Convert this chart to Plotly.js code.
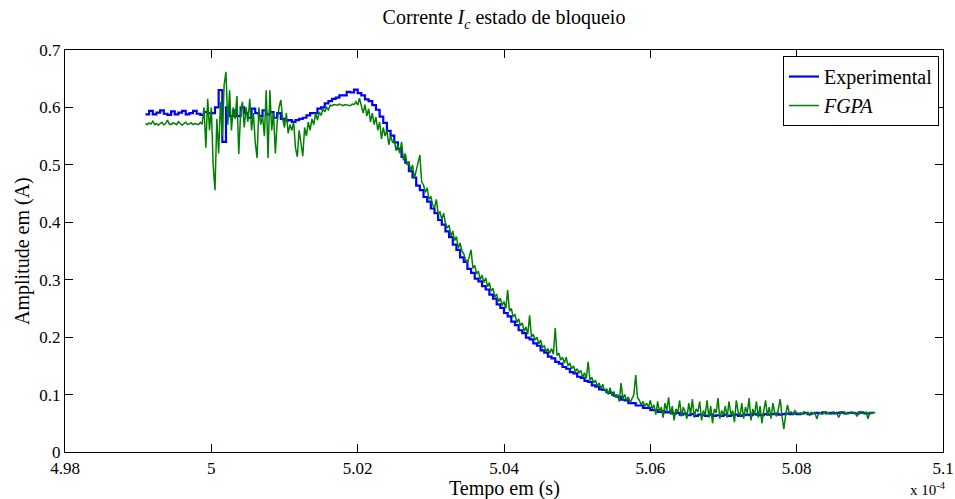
<!DOCTYPE html>
<html><head><meta charset="utf-8">
<script src="https://cdn.plot.ly/plotly-3.0.1.min.js"></script>
<style>html,body{margin:0;padding:0;background:#fff}#chart{width:955px;height:499px}</style>
</head><body><div id="chart"></div>
<script>
// time axis in units of 1e-4 s
const seriesNames = ["Experimental", "<i>FGPA</i>"];
const expStart = 4.991, expStep = 0.0005;
const fpgaStart = 4.991, fpgaStep = 0.00025;

const experimental = [
0.588,0.594,0.588,0.591,0.595,0.589,0.587,0.593,0.588,0.591,0.594,0.588,0.59,0.594,0.589,0.587,0.592,0.59,
0.59,0.6,0.63,0.54,0.6,0.585,
0.595,0.585,0.6,0.59,0.582,0.598,0.59,0.585,0.595,0.588,0.592,0.582,0.59,
0.58,0.577,0.578,0.575,0.578,0.58,
0.582,0.586,0.59,0.59,0.598,0.6,0.607,0.611,0.615,0.617,0.621,0.621,0.627,0.626,0.631,0.625,
0.621,0.614,0.611,0.604,0.596,0.584,0.573,0.559,0.551,0.539,0.528,0.514,0.504,0.489,0.478,0.464,0.456,0.444,0.436,0.424,
0.416,0.404,0.396,0.384,0.374,0.361,0.352,0.339,0.331,0.319,0.312,0.302,0.297,0.289,0.283,0.274,0.267,0.257,0.251,0.242,
0.236,0.227,0.221,0.212,0.207,0.199,0.196,0.189,0.185,0.177,0.173,0.166,0.163,0.157,0.154,0.148,0.145,0.139,0.137,0.131,
0.129,0.124,0.122,0.116,0.114,0.109,0.108,0.104,0.103,0.098,0.096,0.091,0.09,0.085,0.085,0.081,0.081,0.077,0.077,0.073,
0.073,0.07,0.071,0.069,0.07,0.067,0.068,0.065,0.067,0.064,0.066,0.063,0.065,0.064,0.063,0.065,0.063,0.064,0.063,0.065,
0.063,0.064,0.065,0.063,0.064,0.065,0.064,0.066,0.065,0.064,0.066,0.065,0.066,0.067,0.065,0.066,0.067,0.066,0.067,0.066,
0.067,0.068,0.066,0.067,0.068,0.067,0.069,0.067,0.068,0.067,0.068,0.069,0.067,0.068,0.068,0.067,0.069,0.068,0.067,0.068,0.068
];

const fpga = [
0.572,0.57,0.573,0.571,0.576,0.57,0.572,0.569,
0.572,0.574,0.57,0.572,0.578,0.571,0.57,0.573,
0.572,0.57,0.575,0.571,0.569,0.572,0.574,0.57,
0.571,0.573,0.57,0.572,0.571,0.57,0.574,0.571,
0.6,0.53,0.615,0.56,
0.6,0.5,0.456,0.58,0.52,0.61,0.55,0.64,0.662,0.57,
0.63,0.56,0.6,0.58,0.62,0.519,0.59,0.61,0.565,0.6,
0.575,0.615,0.56,0.59,0.54,0.512,0.6,0.57,0.585,0.55,
0.63,0.512,0.63,0.56,0.59,0.52,0.575,0.6,0.613,0.58,
0.565,0.59,0.555,0.57,0.56,0.575,0.53,0.514,0.56,0.54,0.515,0.565,0.55,0.575,0.56,0.58,0.57,0.59,0.578,0.592,0.586,
0.598,0.592,0.6,0.596,0.604,0.603,0.605,0.604,0.604,0.606,0.604,0.603,0.605,0.604,0.604,0.603,0.606,0.605,0.61,0.604,
0.616,0.6,0.59,0.605,0.585,0.598,0.575,0.59,0.57,0.583,0.56,0.575,0.545,0.565,0.55,0.56,0.535,0.55,0.54,0.543,
0.525,0.535,0.52,0.54,0.508,0.52,0.5,0.505,0.49,0.5,0.476,0.49,0.505,0.517,0.47,0.465,0.452,0.46,0.44,0.445,
0.43,0.425,0.44,0.415,0.418,0.405,0.416,0.398,0.39,0.395,0.375,0.385,0.368,0.375,0.355,0.364,0.35,0.345,0.335,0.33,
0.34,0.352,0.32,0.325,0.31,0.315,0.3,0.308,0.295,0.303,0.288,0.295,0.28,0.285,0.27,0.275,0.262,0.268,0.255,0.262,
0.25,0.282,0.245,0.25,0.235,0.24,0.225,0.232,0.22,0.225,0.21,0.218,0.205,0.238,0.2,0.205,0.195,0.2,0.188,0.195,
0.182,0.185,0.175,0.18,0.172,0.18,0.17,0.216,0.168,0.172,0.16,0.165,0.155,0.165,0.15,0.155,0.145,0.15,0.14,0.145,
0.138,0.142,0.13,0.138,0.128,0.157,0.125,0.13,0.12,0.125,0.115,0.12,0.11,0.118,0.106,0.11,0.1,0.112,0.098,0.105,
0.095,0.1,0.088,0.12,0.092,0.1,0.09,0.096,0.086,0.092,0.1,0.134,0.095,0.09,0.082,0.088,0.08,0.085,0.078,0.09,
0.075,0.082,0.065,0.088,0.07,0.078,0.06,0.085,0.072,0.095,0.065,0.08,0.055,0.075,0.068,0.09,0.062,0.078,0.07,0.058,
0.085,0.066,0.092,0.06,0.075,0.07,0.088,0.055,0.072,0.065,0.09,0.06,0.08,0.05,0.075,0.068,0.094,0.058,0.072,0.065,
0.08,0.06,0.088,0.065,0.072,0.052,0.09,0.07,0.062,0.085,0.058,0.078,0.068,0.094,0.055,0.075,0.065,0.088,0.06,0.08,
0.05,0.072,0.09,0.063,0.078,0.058,0.085,0.068,0.062,0.075,0.092,0.062,0.04,0.065,0.082,0.067,0.07,0.066,0.072,0.068,
0.067,0.068,0.066,0.07,0.067,0.068,0.064,0.069,0.067,0.068,0.058,0.067,0.068,0.066,0.069,0.067,0.068,0.067,0.066,0.07,
0.068,0.067,0.06,0.068,0.067,0.069,0.066,0.068,0.067,0.07,0.067,0.068,0.062,0.069,0.067,0.068,0.066,0.069,0.058,0.068,
0.067,0.069,0.068
];

const xTickVals = [4.98, 5, 5.02, 5.04, 5.06, 5.08, 5.1];
const xTickText = ["4.98", "5", "5.02", "5.04", "5.06", "5.08", "5.1"];
const yTickVals = [0, 0.1, 0.2, 0.3, 0.4, 0.5, 0.6, 0.7];
const yTickText = ["0", "0.1", "0.2", "0.3", "0.4", "0.5", "0.6", "0.7"];

const FONT = "Liberation Serif";

const traces = [
  {type: "scatter", mode: "lines", name: seriesNames[0], y: experimental, x0: expStart, dx: expStep,
   line: {color: "#0000ff", width: 2.2, shape: "hv"}},
  {type: "scatter", mode: "lines", name: seriesNames[1], y: fpga, x0: fpgaStart, dx: fpgaStep,
   line: {color: "#008000", width: 1.5}}
];

const axisCommon = {
  showgrid: false, zeroline: false, showline: true, linecolor: "#000", linewidth: 1.2,
  mirror: "ticks", ticks: "inside", ticklen: 8, tickcolor: "#000", tickwidth: 1,
  tickmode: "array", tickfont: {family: FONT, size: 17, color: "#000"}
};

const layout = {
  width: 955, height: 499,
  margin: {l: 65, r: 12, t: 50, b: 47},
  paper_bgcolor: "#fff", plot_bgcolor: "#fff",
  font: {family: FONT, color: "#000"},
  title: {text: "Corrente <i>I</i><sub><i>c</i></sub> estado de bloqueio",
          font: {family: FONT, size: 20, color: "#000"},
          x: 0.5, xref: "paper", xanchor: "center", y: 0.965, yref: "container", yanchor: "middle"},
  xaxis: Object.assign({}, axisCommon, {range: [4.98, 5.1], tickvals: xTickVals, ticktext: xTickText}),
  yaxis: Object.assign({}, axisCommon, {range: [0, 0.7], tickvals: yTickVals, ticktext: yTickText}),
  showlegend: true,
  legend: {x: 0.9954, xanchor: "right", y: 0.985, yanchor: "top", xref: "paper", yref: "paper",
           bgcolor: "#fff", bordercolor: "#000", borderwidth: 1,
           font: {family: FONT, size: 20, color: "#000"}, tracegroupgap: 0, itemwidth: 30},
  annotations: [
    {text: "Tempo em (s)", xref: "paper", yref: "paper", x: 0.5, y: 0, yshift: -36,
     xanchor: "center", yanchor: "middle", showarrow: false, font: {family: FONT, size: 20, color: "#000"}},
    {text: "Amplitude em (A)", xref: "paper", yref: "paper", x: 0, y: 0.5, xshift: -43, textangle: -90,
     xanchor: "center", yanchor: "middle", showarrow: false, font: {family: FONT, size: 20, color: "#000"}},
    {text: "x 10<sup>-4</sup>", xref: "paper", yref: "paper", x: 1.006, y: 0, yshift: -37,
     xanchor: "right", yanchor: "middle", showarrow: false, font: {family: FONT, size: 15, color: "#000"}}
  ]
};

Plotly.newPlot("chart", traces, layout, {displayModeBar: false, staticPlot: true});
</script>
</body></html>
